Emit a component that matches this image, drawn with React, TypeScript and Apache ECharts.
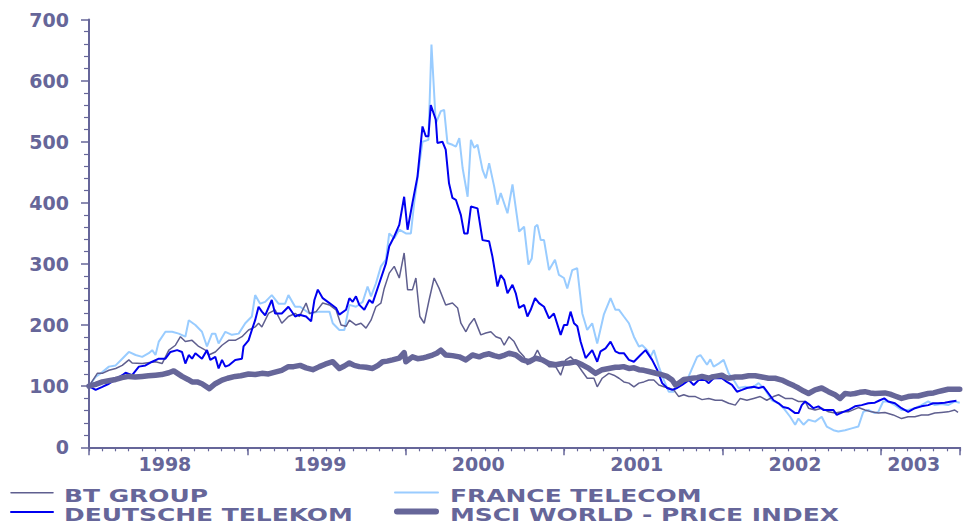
import React, { useEffect, useRef } from "react";
import * as echarts from "echarts";

// x = months since January 1998, y = index (Jan 1998 = 100)
const btGroup: [number, number][] = [
  [0,100],[0.63,121],[1.01,121],[1.51,126],[2.02,129],[2.52,134],[3.02,143],[3.27,138],[4.03,137],[5.04,140],[5.54,137],[6.05,159],[6.55,167],[6.93,181],[7.3,173],[7.81,175],[8.31,165],[8.82,159],[9.07,151],[9.57,156],[10.08,167],[10.58,175],[11.08,175],[11.59,181],[12.09,192],[12.59,197],[12.85,203],[13.1,197],[13.6,219],[14.1,225],[14.61,203],[15.11,214],[15.62,219],[15.95,214],[16.45,236],[16.71,219],[17.21,222],[17.71,236],[18.22,233],[18.72,225],[19.1,200],[19.48,198],[19.73,208],[20.23,200],[20.61,203],[20.99,195],[21.37,208],[21.74,230],[22.12,236],[22.37,260],[22.75,285],[23.13,296],[23.51,277],[23.88,318],[24.14,258],[24.51,258],[24.77,277],[25.07,214],[25.4,203],[25.77,241],[26.15,277],[26.53,260],[27.03,233],[27.54,236],[27.93,228],[28.18,203],[28.56,189],[28.81,200],[29.19,211],[29.69,184],[30.07,187],[30.45,189],[30.83,181],[31.2,178],[31.46,167],[31.83,181],[32.21,173],[32.59,157],[32.97,148],[33.22,135],[33.6,143],[33.98,159],[34.35,143],[34.86,132],[35.36,132],[35.74,118],[36.12,143],[36.49,148],[36.87,140],[37.38,124],[37.75,113],[38.26,113],[38.51,99],[38.89,113],[39.39,121],[39.77,118],[40.16,113],[40.53,107],[40.91,105],[41.29,99],[41.67,105],[42.04,107],[42.42,110],[42.8,110],[43.18,102],[43.56,99],[43.93,97],[44.31,94],[44.69,83],[45.07,86],[45.45,83],[45.95,83],[46.45,78],[46.96,80],[47.46,77],[47.96,77],[48.47,72],[48.97,69],[49.35,80],[49.85,77],[50.36,80],[50.86,83],[51.36,77],[51.87,83],[52.25,86],[52.75,80],[53.26,80],[53.76,75],[54.27,75],[54.52,64],[55.02,61],[55.52,64],[56.03,58],[56.53,56],[57.04,58],[57.54,58],[58.3,65],[58.8,61],[59.3,58],[59.81,56],[60.31,57],[60.94,53],[61.57,47],[62.07,50],[62.58,50],[63.08,53],[63.59,53],[64.09,56],[64.59,57],[65.1,58],[65.6,61],[65.85,57]
];

const deutscheTelekom: [number, number][] = [
  [0,100],[0.5,94],[1.01,99],[1.51,104],[2.02,111],[2.52,118],[2.77,122],[3.27,118],[3.78,132],[4.28,134],[4.79,140],[5.29,145],[5.79,145],[6.17,156],[6.68,159],[7.05,156],[7.3,137],[7.56,151],[7.81,145],[8.06,154],[8.56,145],[8.94,159],[9.19,143],[9.57,148],[9.82,129],[10.08,143],[10.33,132],[10.58,134],[11.08,143],[11.59,145],[11.71,165],[12.09,175],[12.34,192],[12.59,208],[12.85,230],[13.1,222],[13.35,216],[13.85,241],[14.1,219],[14.61,219],[15.11,230],[15.62,214],[15.95,217],[16.45,214],[16.83,206],[17.08,241],[17.34,258],[17.71,244],[18.22,236],[18.72,228],[18.97,217],[19.48,225],[19.73,244],[19.98,238],[20.23,247],[20.48,233],[20.86,225],[21.24,241],[21.49,236],[21.99,268],[22.5,301],[22.75,329],[23.13,345],[23.51,364],[23.88,410],[24.14,356],[24.51,400],[24.89,443],[25.27,525],[25.52,509],[25.72,509],[25.9,560],[26.28,536],[26.4,498],[26.78,500],[27.03,487],[27.28,432],[27.54,408],[27.8,405],[28.18,380],[28.43,350],[28.69,350],[28.94,394],[29.44,391],[29.82,339],[30.32,337],[30.57,312],[30.95,263],[31.2,282],[31.46,274],[31.71,252],[32.09,266],[32.34,252],[32.59,228],[32.97,233],[33.22,214],[33.47,225],[33.8,244],[34.1,236],[34.48,230],[34.86,211],[35.23,219],[35.74,184],[35.99,200],[36.24,200],[36.49,222],[36.75,203],[37.0,198],[37.25,173],[37.63,146],[38.13,159],[38.51,140],[38.76,157],[39.14,162],[39.52,173],[39.89,157],[40.16,154],[40.53,154],[40.91,143],[41.29,140],[41.79,151],[42.17,159],[42.67,143],[43.05,127],[43.43,105],[43.81,97],[44.19,94],[44.56,97],[44.94,102],[45.45,110],[45.82,102],[46.2,110],[46.7,110],[46.96,105],[47.33,113],[47.96,113],[48.34,107],[48.72,102],[49.1,91],[49.48,94],[49.85,97],[50.36,99],[50.74,97],[51.11,99],[51.49,88],[51.87,77],[52.25,72],[52.6,66],[53.0,64],[53.51,56],[53.76,56],[54.01,69],[54.27,75],[54.64,69],[54.9,64],[55.27,67],[55.65,61],[56.03,61],[56.41,61],[56.66,53],[57.16,58],[57.54,61],[58.04,67],[58.55,69],[59.05,72],[59.55,73],[59.93,77],[60.26,80],[60.56,75],[61.07,72],[61.57,64],[62.07,58],[62.58,64],[63.08,67],[63.59,69],[63.96,72],[64.34,72],[64.84,73],[65.35,75],[65.73,76]
];

const franceTelecom: [number, number][] = [
  [0,100],[0.5,115],[1.01,123],[1.51,132],[2.02,134],[2.52,145],[3.02,156],[3.53,151],[4.03,148],[4.53,154],[4.79,159],[5.04,151],[5.29,173],[5.79,189],[6.3,189],[6.8,186],[7.3,181],[7.56,208],[8.06,200],[8.56,189],[8.94,165],[9.32,186],[9.57,186],[9.82,170],[10.33,189],[10.83,184],[11.34,186],[11.84,203],[12.34,214],[12.59,249],[12.97,235],[13.35,238],[13.85,249],[14.36,235],[14.86,235],[15.11,249],[15.62,230],[16.0,230],[16.71,219],[17.46,222],[18.22,222],[18.47,203],[18.97,192],[19.35,192],[19.73,233],[20.23,230],[20.74,238],[21.11,263],[21.37,247],[21.74,268],[22.12,296],[22.5,307],[22.75,350],[23.13,342],[23.51,356],[24.01,350],[24.39,350],[24.64,400],[25.02,460],[25.27,500],[25.72,503],[25.95,659],[26.28,530],[26.66,550],[26.91,552],[27.16,498],[27.54,495],[27.8,492],[28.06,506],[28.31,457],[28.69,410],[28.94,503],[29.19,490],[29.44,495],[29.82,454],[30.07,440],[30.32,465],[30.7,427],[30.95,397],[31.2,416],[31.71,383],[32.09,430],[32.59,353],[32.97,361],[33.3,299],[33.55,309],[33.8,361],[33.98,364],[34.23,339],[34.48,339],[34.86,290],[35.31,307],[35.61,282],[35.99,277],[36.24,260],[36.62,290],[36.99,293],[37.38,219],[37.75,192],[38.13,203],[38.51,170],[39.01,217],[39.52,244],[39.89,225],[40.16,225],[40.53,214],[40.91,203],[41.29,181],[41.67,165],[41.92,167],[42.3,159],[42.55,148],[42.8,159],[43.18,132],[43.56,110],[43.93,91],[44.31,91],[44.56,102],[44.94,105],[45.32,110],[45.7,129],[46.08,148],[46.33,151],[46.58,143],[46.83,135],[47.08,144],[47.33,132],[47.71,137],[48.09,143],[48.47,121],[48.85,110],[49.22,97],[49.73,99],[50.23,97],[50.74,105],[51.24,94],[51.74,77],[52.25,72],[52.63,64],[53.13,50],[53.51,37],[53.76,47],[54.14,37],[54.52,45],[55.02,42],[55.52,50],[55.9,34],[56.41,28],[56.78,26],[57.29,28],[57.79,31],[58.3,34],[58.67,58],[59.05,61],[59.55,56],[59.81,58],[60.18,75],[60.56,75],[61.07,69],[61.57,61],[62.07,61],[62.58,64],[63.08,69],[63.59,75],[64.09,69],[64.59,71],[65.1,69],[65.6,75],[65.98,73]
];

const msciWorld: [number, number][] = [
  [0,100],[0.5,103],[1.01,107],[1.5,109],[2.02,111],[2.5,114],[3.02,116],[3.5,115],[4.03,116],[4.5,117],[5.04,118],[5.5,119],[6.05,122],[6.42,125],[7.05,116],[7.5,111],[7.81,107],[8.2,107],[8.56,104],[9.12,96],[9.57,104],[10.08,110],[10.5,113],[11.08,116],[11.5,117],[12.09,120],[12.6,119],[13.1,121],[13.6,120],[14.1,123],[14.6,126],[15.11,132],[15.5,132],[16.0,134],[16.45,130],[16.96,127],[17.46,132],[17.9,136],[18.47,140],[18.97,129],[19.35,133],[19.73,138],[20.1,134],[20.48,132],[21.0,131],[21.49,129],[21.9,134],[22.25,140],[22.6,141],[23.0,143],[23.51,146],[23.88,155],[24.01,140],[24.51,148],[24.9,145],[25.27,146],[25.6,148],[26.03,151],[26.35,154],[26.66,159],[27.03,151],[27.54,150],[28.06,148],[28.56,143],[29.06,151],[29.57,148],[29.9,151],[30.32,153],[30.7,150],[31.08,148],[31.5,151],[31.83,154],[32.34,151],[32.84,143],[33.35,140],[33.85,146],[34.35,143],[34.86,137],[35.36,135],[35.86,137],[36.37,138],[36.87,140],[37.38,135],[37.88,129],[38.38,121],[38.89,127],[39.39,129],[39.89,131],[40.16,131],[40.5,132],[40.91,129],[41.3,130],[41.67,127],[42.05,126],[42.42,124],[42.8,122],[43.18,120],[43.5,118],[43.81,116],[44.19,110],[44.44,102],[44.69,105],[45.07,111],[45.4,112],[45.7,113],[46.1,114],[46.45,116],[46.96,113],[47.2,115],[47.46,116],[47.96,118],[48.2,115],[48.47,113],[48.97,115],[49.48,115],[49.98,117],[50.48,117],[50.99,115],[51.49,113],[51.99,113],[52.5,110],[53.0,105],[53.4,101],[53.76,97],[54.15,92],[54.52,88],[55.02,94],[55.52,97],[56.03,91],[56.53,86],[56.91,80],[57.29,88],[57.7,87],[58.04,88],[58.4,90],[58.8,91],[59.2,89],[59.55,88],[60.31,89],[60.7,87],[61.07,84],[61.57,80],[62.07,83],[62.45,84],[62.83,84],[63.2,86],[63.59,88],[64.0,89],[64.34,91],[64.7,93],[65.1,95],[65.5,95],[65.98,95]
];

const yearLabels = ["1998", "1999", "2000", "2001", "2002", "2003"];
const yearLabelMonths = [5.75, 17.5, 29.5, 41.5, 53.5, 62.5];
const seriesNames = ["BT GROUP", "FRANCE TELECOM", "DEUTSCHE TELEKOM", "MSCI WORLD - PRICE INDEX"];

const INK = "#666699";
const FONT = "DejaVu Sans";

export default function App() {
  const ref = useRef<HTMLDivElement>(null);
  useEffect(() => {
    document.body.style.margin = "0";
    const chart = echarts.init(ref.current!, undefined, { renderer: "svg" });
    const legendText = (x: number, y: number, text: string) => ({
      type: "text",
      x,
      y,
      scaleX: 1.385,
      style: {
        text,
        fill: INK,
        font: `bold 18px "${FONT}"`,
        textVerticalAlign: "middle",
        verticalAlign: "middle",
      },
    });
    const legendLine = (x1: number, x2: number, y: number, color: string, w: number) => ({
      type: "line",
      shape: { x1, y1: y, x2, y2: y },
      style: { stroke: color, lineWidth: w, lineCap: "round" },
    });
    const xBase = { type: "value", min: 0, max: 66, position: "bottom", splitLine: { show: false } };
    chart.setOption({
      animation: false,
      grid: { left: 89, right: 9, top: 19.5, bottom: 76.7, containLabel: false, outerBoundsMode: "none" },
      xAxis: [
        {
          ...xBase,
          interval: 12,
          axisLine: { show: true, lineStyle: { color: INK, width: 2 } },
          axisTick: { show: true, length: 8, lineStyle: { color: INK, width: 1.5 } },
          axisLabel: { show: false },
        },
        {
          ...xBase,
          interval: 1,
          axisLine: { show: false },
          axisTick: { show: true, length: 4, lineStyle: { color: INK, width: 1.2 } },
          axisLabel: { show: false },
        },
        {
          ...xBase,
          interval: 0.25,
          axisLine: { show: false },
          axisTick: { show: false },
          axisLabel: {
            show: true,
            margin: 7,
            color: INK,
            fontFamily: FONT,
            fontWeight: "bold",
            fontSize: 19,
            formatter: (v: number) => {
              const i = yearLabelMonths.indexOf(v);
              return i >= 0 ? yearLabels[i] : "";
            },
          },
        },
      ],
      yAxis: {
        type: "value",
        min: 0,
        max: 700,
        interval: 100,
        splitLine: { show: false },
        axisLine: { show: true, lineStyle: { color: INK, width: 2 } },
        axisTick: { show: true, length: 8, lineStyle: { color: INK, width: 1.5 } },
        minorTick: { show: true, splitNumber: 5, length: 5, lineStyle: { color: INK, width: 1.2 } },
        axisLabel: { margin: 20, color: INK, fontFamily: FONT, fontWeight: "bold", fontSize: 19 },
      },
      series: [
        { name: seriesNames[1], type: "line", data: franceTelecom, showSymbol: false, symbol: "none", lineStyle: { color: "#99ccff", width: 2 }, z: 2 },
        { name: seriesNames[0], type: "line", data: btGroup, showSymbol: false, symbol: "none", lineStyle: { color: "#5f5f8f", width: 1.5 }, z: 3 },
        { name: seriesNames[2], type: "line", data: deutscheTelekom, showSymbol: false, symbol: "none", lineStyle: { color: "#0000f0", width: 2 }, z: 4 },
        { name: seriesNames[3], type: "line", data: msciWorld, showSymbol: false, symbol: "none", lineStyle: { color: INK, width: 5.5, join: "round", cap: "round" }, z: 5 },
      ],
      graphic: [
        legendLine(11, 53, 492.7, "#5f5f8f", 1.5),
        legendText(64, 496, seriesNames[0]),
        legendLine(11, 53, 512, "#0000f0", 2),
        legendText(64, 514.5, seriesNames[2]),
        legendLine(395, 438, 492.5, "#99ccff", 2),
        legendText(450, 496, seriesNames[1]),
        legendLine(397, 436, 511.5, INK, 6),
        legendText(450, 514.5, seriesNames[3]),
      ],
    });
    return () => chart.dispose();
  }, []);
  return <div ref={ref} style={{ width: 969, height: 524 }} />;
}
